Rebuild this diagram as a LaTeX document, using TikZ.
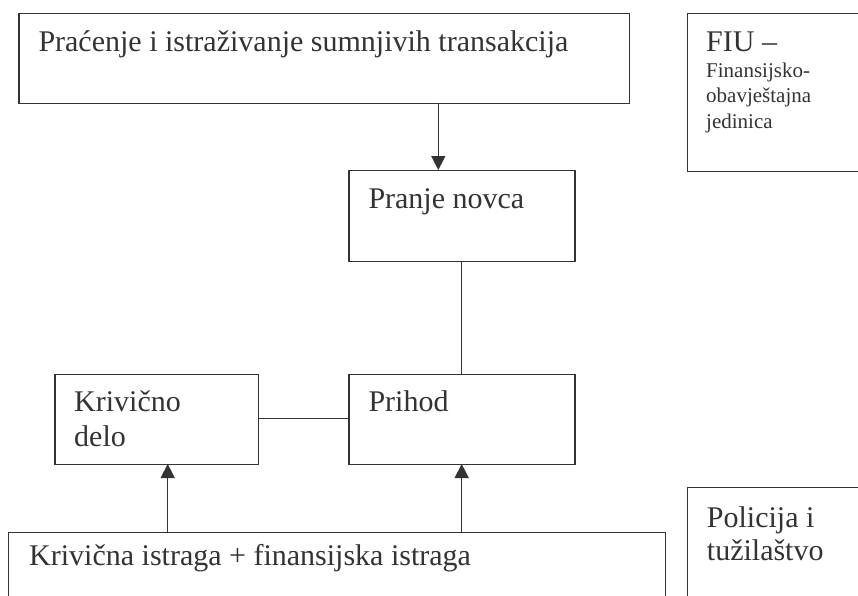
\documentclass[tikz,border=0pt]{standalone}
\usepackage{fontspec}
\setmainfont{Liberation Serif}
\usetikzlibrary{arrows.meta}
\definecolor{ink}{HTML}{333333}
\begin{document}
\begin{tikzpicture}[x=1pt,y=-1pt,
  box/.style={draw=ink,line width=1.4pt,rectangle,inner sep=0pt,anchor=north west},
  txt/.style={anchor=base west,inner sep=0pt,text=ink,font=\fontsize{30}{34}\selectfont},
  small/.style={anchor=base west,inner sep=0pt,text=ink,font=\fontsize{21}{25}\selectfont},
  conn/.style={draw=ink,line width=1.4pt},
  arr/.style={conn,-{Triangle[length=14pt,width=14pt]}}]
\clip (0,0) rectangle (858,595);
\fill[white] (0,0) rectangle (858,595);
% boxes
\node[box,minimum width=610.7pt,minimum height=90pt] (top) at (18.3,12.7) {};
\node[box,minimum width=200pt,minimum height=158pt] (fiu) at (687,12.7) {};
\node[box,minimum width=226pt,minimum height=91pt] (pranje) at (348.3,170) {};
\node[box,minimum width=226pt,minimum height=90pt] (prihod) at (348.3,374) {};
\node[box,minimum width=203.4pt,minimum height=90pt] (krivicno) at (54.3,374) {};
\node[box,minimum width=657pt,minimum height=100pt] (istraga) at (8,531.7) {};
\node[box,minimum width=200pt,minimum height=150pt] (policija) at (687,487) {};
% texts
\node[txt] (t1) at (38.3,51.7) {Praćenje i istraživanje sumnjivih transakcija};
\node[txt] (t2) at (706,51.7) {FIU –};
\node[small] (t3) at (706,77.3) {Finansijsko-};
\node[small] (t4) at (706,102.5) {obavještajna};
\node[small] (t5) at (706,128) {jedinica};
\node[txt] (t6) at (368.3,208.3) {Pranje novca};
\node[txt] (t7) at (368.3,411.7) {Prihod};
\node[txt] (t8) at (74,411.7) {Krivično};
\node[txt] (t9) at (74,446.7) {delo};
\node[txt] (t10) at (29,565) {Krivična istraga + finansijska istraga};
\node[txt] (t11) at (706.7,527) {Policija i};
\node[txt] (t12) at (706.7,560) {tužilaštvo};
% connectors
\coordinate (a1) at (438.3,102.7);
\coordinate (a2) at (438.3,170);
\draw[arr] (a1) -- (a2);
\coordinate (b1) at (461.7,261);
\coordinate (b2) at (461.7,374);
\draw[conn] (b1) -- (b2);
\coordinate (k1) at (257.7,418.5);
\coordinate (k2) at (348.3,418.5);
\draw[conn] (k1) -- (k2);
\coordinate (c1) at (167.7,531.7);
\coordinate (c2) at (167.7,464);
\draw[arr] (c1) -- (c2);
\coordinate (d1) at (461.7,531.7);
\coordinate (d2) at (461.7,464);
\draw[arr] (d1) -- (d2);
\end{tikzpicture}
\end{document}
